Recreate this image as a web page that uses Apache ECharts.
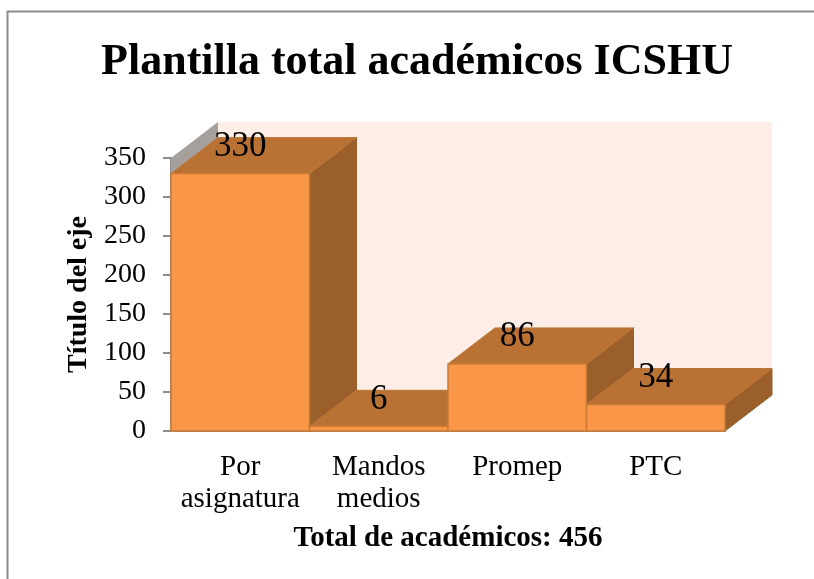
<!DOCTYPE html>
<html>
<head>
<meta charset="utf-8">
<style>
  html, body { margin: 0; padding: 0; background: #fff; }
  #chart { width: 814px; height: 579px; }
</style>
<script src="https://cdn.jsdelivr.net/npm/echarts@6/dist/echarts.min.js"></script>
</head>
<body>
<div id="chart"></div>
<script>
const categories = ['Por\nasignatura', 'Mandos\nmedios', 'Promep', 'PTC']
const values = [330, 6, 86, 34]
const yTicks = { max: 350, interval: 50 }
const chartFont = '"Liberation Serif", serif'

// oblique offset of the fake 3d box
const DX = 47
const DY = -36

function renderWall(params) {
  const c = params.coordSys
  const x = c.x
  const y = c.y
  const w = c.width
  const h = c.height
  return {
    type: 'group',
    children: [
      {
        type: 'polygon',
        shape: { points: [[x + DX, y + DY], [x + w + DX, y + DY], [x + w + DX, y + h + DY], [x + DX, y + h + DY]] },
        style: { fill: '#FEEEE7' }
      },
      {
        type: 'polygon',
        shape: { points: [[x, y], [x + DX, y + DY], [x + DX, y + h + DY], [x, y + h]] },
        style: { fill: '#A6A09C' }
      }
    ]
  }
}

function renderBox(params, api) {
  const p0 = api.coord([api.value(0), 0])
  const p1 = api.coord([api.value(0), api.value(1)])
  const w = api.size([1, 0])[0]
  const left = p0[0] - w / 2
  const right = p0[0] + w / 2
  const top = p1[1]
  const bottom = p0[1]
  return {
    type: 'group',
    children: [
      {
        type: 'polygon',
        shape: { points: [[right, top], [right + DX, top + DY], [right + DX, bottom + DY], [right, bottom]] },
        style: { fill: '#9A5F2B', stroke: '#9A5F2B', lineWidth: 1 }
      },
      {
        type: 'polygon',
        shape: { points: [[left, top], [right, top], [right + DX, top + DY], [left + DX, top + DY]] },
        style: { fill: '#B97233', stroke: '#BD7636', lineWidth: 1 }
      },
      {
        type: 'rect',
        shape: { x: left, y: top, width: w, height: bottom - top },
        style: { fill: '#F99647', stroke: '#C97B36', lineWidth: 1.5 }
      },
      {
        type: 'text',
        style: {
          text: String(api.value(1)),
          x: p0[0],
          y: top - 27,
          align: 'center',
          verticalAlign: 'middle',
          fill: '#000',
          font: '35px ' + chartFont
        }
      }
    ]
  }
}

const chart = echarts.init(document.getElementById('chart'))
chart.setOption({
  animation: false,
  backgroundColor: '#fff',
  title: {
    text: 'Plantilla total académicos ICSHU',
    left: 412,
    top: 36,
    textAlign: 'center',
    textStyle: { fontFamily: chartFont, fontWeight: 'bold', fontSize: 44, color: '#000' }
  },
  graphic: [{
    type: 'rect',
    silent: true,
    shape: { x: 7.5, y: 11.5, width: 900, height: 700 },
    style: { fill: 'none', stroke: '#8C8C8C', lineWidth: 2 }
  }],
  grid: { left: 171, top: 158, width: 554, height: 273 },
  xAxis: {
    type: 'category',
    data: categories,
    name: 'Total de académicos: 456',
    nameLocation: 'middle',
    nameGap: 93,
    nameTextStyle: { fontFamily: chartFont, fontWeight: 'bold', fontSize: 29, color: '#000' },
    axisTick: { show: false },
    axisLine: { lineStyle: { color: '#8C8C8C', width: 2 } },
    axisLabel: { margin: 20, fontFamily: chartFont, fontSize: 29, lineHeight: 32, color: '#000', interval: 0 }
  },
  yAxis: {
    type: 'value',
    min: 0,
    max: yTicks.max,
    interval: yTicks.interval,
    name: 'Título del eje',
    nameLocation: 'middle',
    nameRotate: 90,
    nameGap: 76,
    nameTextStyle: { fontFamily: chartFont, fontWeight: 'bold', fontSize: 28, color: '#000' },
    splitLine: { show: false },
    axisLine: { show: true, lineStyle: { color: '#8C8C8C', width: 2 } },
    axisTick: { show: true, length: 8, lineStyle: { color: '#8C8C8C', width: 2 } },
    axisLabel: { margin: 25, padding: [3, 0, 0, 0], fontFamily: chartFont, fontSize: 28, color: '#000' }
  },
  series: [
    { type: 'custom', coordinateSystem: 'cartesian2d', renderItem: renderWall, data: [[0, 0]], z: 1, silent: true },
    {
      type: 'custom',
      coordinateSystem: 'cartesian2d',
      renderItem: renderBox,
      encode: { x: 0, y: 1 },
      data: values.map((v, i) => [i, v]),
      z: 2
    }
  ]
})
</script>
</body>
</html>
